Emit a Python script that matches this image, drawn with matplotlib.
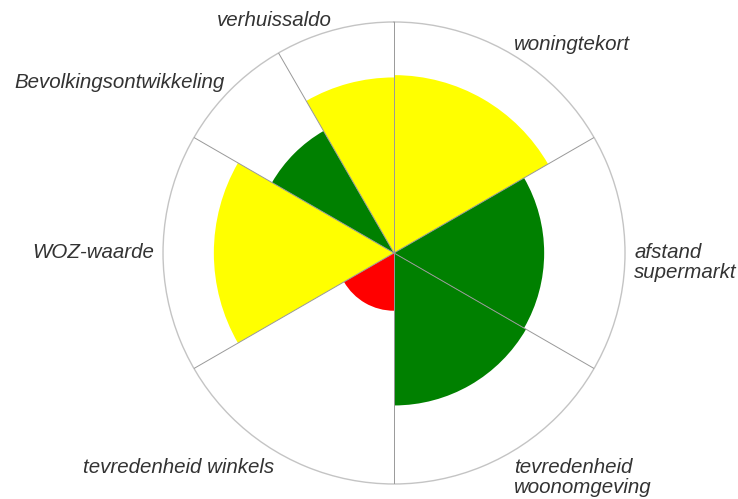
import numpy as np
import matplotlib
matplotlib.use("Agg")
import matplotlib.pyplot as plt

# indicatoren (met de klok mee vanaf boven)
labels = ["woningtekort", "afstand\nsupermarkt", "tevredenheid\nwoonomgeving",
          "tevredenheid winkels", "WOZ-waarde", "Bevolkingsontwikkeling", "verhuissaldo"]
start_deg = [0, 60, 120, 180, 240, 300, 330]
width_deg = [60, 60, 60, 60, 60, 30, 30]
scores = [7.7, 6.5, 6.6, 2.5, 7.8, 6.1, 7.6]
colors = ["#ffff00", "#008000", "#008000", "#ff0000", "#ffff00", "#008000", "#ffff00"]
rmax = 10

fig = plt.figure(figsize=(7.38, 4.99), dpi=100)
ax = fig.add_axes([0.2209, 0.030, 0.626, 0.926], projection="polar")
ax.set_theta_offset(np.pi / 2)
ax.set_theta_direction(-1)

theta = np.deg2rad(start_deg)
widths = np.deg2rad(width_deg)
ax.bar(theta, scores, width=widths, align="edge", color=colors, edgecolor="none", zorder=2)

# spaken op de sectorgrenzen
for t in theta:
    ax.plot([t, t], [0, rmax], color="#999999", lw=0.7, zorder=3)

ax.set_ylim(0, rmax)
ax.grid(False)
ax.set_xticks([])
ax.set_yticks([])
ax.spines["polar"].set_color("#c4c4c4")
ax.spines["polar"].set_linewidth(1.0)

# labels buiten de cirkel
for lab, s, w in zip(labels, start_deg, width_deg):
    mid = s + w / 2
    ha = "left" if 0 < mid < 180 else "right"
    dy = 2 if 90 < mid < 270 else 7
    ax.annotate(lab, xy=(np.deg2rad(mid), rmax * 1.04), xytext=(0, dy),
                textcoords="offset points", ha=ha, va="top",
                fontsize=14.8, fontstyle="italic", color="#333333",
                family="Liberation Sans", linespacing=1.05,
                annotation_clip=False)

fig.savefig("out.png", dpi=100)
